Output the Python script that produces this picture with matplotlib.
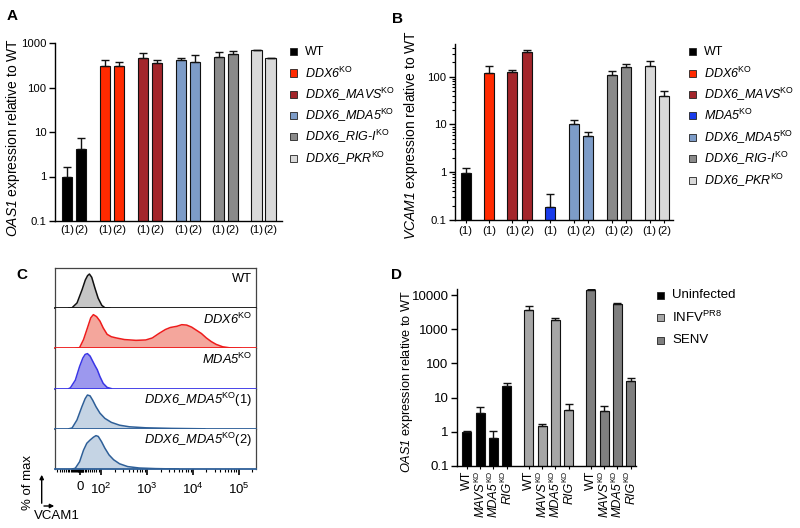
import matplotlib
matplotlib.use('Agg')
import matplotlib.pyplot as plt
import numpy as np
from matplotlib import font_manager
from matplotlib.patches import Rectangle, FancyArrowPatch
from matplotlib.ticker import NullLocator, LogLocator, FixedLocator
from matplotlib.transforms import blended_transform_factory

_names = {f.name for f in font_manager.fontManager.ttflist}
REG = 'Liberation Sans'
NARROW = 'Liberation Sans Narrow' if 'Liberation Sans Narrow' in _names else REG
NSCALE = 1.0 if NARROW != REG else 0.9

plt.rcParams['font.family'] = [REG, 'DejaVu Sans']
plt.rcParams['font.size'] = 9
plt.rcParams['mathtext.fontset'] = 'custom'
plt.rcParams['mathtext.rm'] = REG
plt.rcParams['mathtext.it'] = REG + ':italic'
plt.rcParams['mathtext.bf'] = REG + ':bold'

# ---------------- data ----------------
# Panel A: OAS1 expression
a_counts = [2, 2, 2, 2, 2, 2]
a_ticklabels = ['(1)', '(2)'] * 6
a_mean = [1.0, 4.2, 297, 297, 450, 355, 405, 370, 475, 570, 680, 450]
a_err = [0.62, 3.1, 123, 73, 155, 50, 55, 180, 140, 80, 25, 5]

# Panel B: VCAM1 expression
b_counts = [1, 1, 2, 1, 2, 2, 2]
b_ticklabels = ['(1)', '(1)', '(1)', '(2)', '(1)', '(1)', '(2)', '(1)', '(2)', '(1)', '(2)']
b_mean = [0.95, 116, 122, 325, 0.185, 10.4, 5.8, 109, 160, 168, 39.5]
b_err = [0.26, 53, 12, 27, 0.165, 2.1, 1.0, 21, 22, 43, 9.5]

# Panel D: OAS1 expression after infection
d_conditions = ['Uninfected', r'INFV$^{\rm PR8}$', 'SENV']
d_lines = ['WT', 'MAVS', 'MDA5', 'RIG']
d_lines_ko = [False, True, True, True]
d_uninf = [1.0, 3.6, 0.68, 21.8]
d_uninf_err = [0.07, 1.6, 0.39, 4.2]
d_infv = [3660, 1.47, 1860, 4.3]
d_infv_err = [1040, 0.17, 240, 2.0]
d_senv = [14100, 4.0, 5500, 31.2]
d_senv_err = [1000, 1.65, 250, 5.3]

# Panel C: flow histograms (x in decade display units, y = fraction of row height)
c_wt_x = [1.30, 1.37, 1.48, 1.59, 1.66, 1.71, 1.75, 1.80, 1.87, 1.94, 2.02, 2.09, 2.20]
c_wt_y = [0, 0.01, 0.13, 0.46, 0.70, 0.81, 0.85, 0.77, 0.50, 0.25, 0.07, 0.01, 0]
c_ddx6_x = [1.45, 1.536, 1.622, 1.707, 1.779, 1.836, 1.907, 1.979, 2.05, 2.136, 2.228, 2.336,
            2.514, 2.764, 2.978, 3.121, 3.263, 3.406, 3.513, 3.656, 3.763, 3.870, 3.977, 4.084,
            4.191, 4.298, 4.405, 4.512, 4.655, 4.834, 5.05]
c_ddx6_y = [0, 0.02, 0.22, 0.51, 0.76, 0.84, 0.79, 0.68, 0.51, 0.35, 0.29, 0.26,
            0.22, 0.20, 0.21, 0.26, 0.37, 0.47, 0.52, 0.55, 0.59, 0.58, 0.53, 0.45,
            0.37, 0.26, 0.17, 0.10, 0.04, 0.01, 0]
c_mda5_x = [1.30, 1.336, 1.443, 1.536, 1.607, 1.657, 1.707, 1.764, 1.822, 1.872, 1.921, 1.979,
            2.05, 2.136, 2.228]
c_mda5_y = [0, 0.02, 0.21, 0.55, 0.76, 0.85, 0.87, 0.81, 0.68, 0.57, 0.47, 0.30,
            0.13, 0.03, 0]
c_dm1_x = [1.30, 1.372, 1.479, 1.586, 1.657, 1.707, 1.764, 1.822, 1.893, 1.979, 2.086, 2.228,
           2.407, 2.621, 2.978, 3.549, 4.263]
c_dm1_y = [0, 0.02, 0.22, 0.55, 0.75, 0.84, 0.82, 0.71, 0.55, 0.39, 0.26, 0.16,
           0.09, 0.05, 0.025, 0.01, 0]
c_dm2_x = [1.38, 1.443, 1.536, 1.622, 1.693, 1.764, 1.836, 1.893, 1.943, 2.014, 2.086, 2.178,
           2.278, 2.407, 2.585, 2.835, 3.192, 3.692]
c_dm2_y = [0, 0.02, 0.18, 0.47, 0.64, 0.72, 0.79, 0.83, 0.81, 0.68, 0.52, 0.35,
           0.23, 0.13, 0.06, 0.025, 0.01, 0]
c_labels = [('WT', 'normal'), (r'DDX6$^{\rm KO}$', 'italic'), (r'MDA5$^{\rm KO}$', 'italic'),
            (r'DDX6_MDA5$^{\rm KO}\mathrm{(1)}$', 'italic'), (r'DDX6_MDA5$^{\rm KO}\mathrm{(2)}$', 'italic')]
c_tick_pos = [1.55, 2, 3, 4, 5]
c_tick_labels = ['0', r'$10^2$', r'$10^3$', r'$10^4$', r'$10^5$']

# ---------------- styling ----------------
colA = ['black'] * 2 + ['#ff2a00'] * 2 + ['#a3262b'] * 2 + ['#7d9cc8'] * 2 + ['#8a8a8a'] * 2 + ['#d9d9d9'] * 2
colB = ['black', '#ff2a00', '#a3262b', '#a3262b', '#1a3ceb', '#7d9cc8', '#7d9cc8',
        '#8a8a8a', '#8a8a8a', '#d9d9d9', '#d9d9d9']
legA = [('black', 'WT', 'normal'), ('#ff2a00', r'DDX6$^{\rm KO}$', 'italic'),
        ('#a3262b', r'DDX6_MAVS$^{\rm KO}$', 'italic'),
        ('#7d9cc8', r'DDX6_MDA5$^{\rm KO}$', 'italic'), ('#8a8a8a', r'DDX6_RIG-I$^{\rm KO}$', 'italic'),
        ('#d9d9d9', r'DDX6_PKR$^{\rm KO}$', 'italic')]
legB = [('black', 'WT', 'normal'), ('#ff2a00', r'DDX6$^{\rm KO}$', 'italic'),
        ('#a3262b', r'DDX6_MAVS$^{\rm KO}$', 'italic'),
        ('#1a3ceb', r'MDA5$^{\rm KO}$', 'italic'), ('#7d9cc8', r'DDX6_MDA5$^{\rm KO}$', 'italic'),
        ('#8a8a8a', r'DDX6_RIG-I$^{\rm KO}$', 'italic'), ('#d9d9d9', r'DDX6_PKR$^{\rm KO}$', 'italic')]
colD = ['black', '#a6a6a6', '#7f7f7f']

W, H = 800, 528
fig = plt.figure(figsize=(W / 100, H / 100), dpi=100)


def fx(px):
    return px / W


def fy(py):
    return 1 - py / H


def ax_px(l, t, r, b):
    return fig.add_axes([l / W, 1 - b / H, (r - l) / W, (b - t) / H])


def positions(counts, gap):
    pos = []
    x = 0.0
    for c in counts:
        for i in range(c):
            pos.append(x)
            x += 1
        x = x - 1 + gap
    return np.array(pos)


def style_bar_axes(ax, family, size):
    for s in ['top', 'right']:
        ax.spines[s].set_visible(False)
    for s in ['left', 'bottom']:
        ax.spines[s].set_linewidth(1.0)
    ax.tick_params(axis='y', direction='out', length=4, width=1, pad=2)
    for t in ax.get_yticklabels():
        t.set_family(family)
        t.set_fontsize(size)


def legend_px(entries, xm, y0, dy, xt, fs, family, size=7):
    for k, (c, lab, st) in enumerate(entries):
        yc = y0 + k * dy
        fig.add_artist(Rectangle((fx(xm - size / 2), fy(yc + size / 2)), size / W, size / H,
                                 transform=fig.transFigure, facecolor=c, edgecolor='#222222', lw=0.6))
        fig.text(fx(xt), fy(yc), lab, ha='left', va='center', fontsize=fs, style=st, family=family)


def bars(ax, pos, mean, err, colors, width):
    ax.bar(pos, mean, width=width, color=colors, edgecolor='#111111', linewidth=0.8, zorder=2)
    ax.errorbar(pos, mean, yerr=[np.zeros(len(err)), err], fmt='none', ecolor='#111111',
                elinewidth=1.0, capsize=2.6, capthick=1.0, zorder=3)


def gene_ylabel(ax, gene, xc, yc, fs):
    ax.set_ylabel(gene + r'$\rm{\ expression\ relative\ to\ WT}$', fontsize=fs, style='italic',
                  family=REG)
    ax.yaxis.set_label_coords(xc, yc)


# ---------------- Panel A ----------------
axA = ax_px(55, 43, 282, 221)
posA = positions(a_counts, 1.71)
bars(axA, posA, a_mean, a_err, colA, 0.74)
axA.set_yscale('log')
axA.set_ylim(0.1, 1000)
axA.set_xlim(-0.86, 15.36)
axA.set_yticks([0.1, 1, 10, 100, 1000])
axA.set_yticklabels(['0.1', '1', '10', '100', '1000'])
axA.yaxis.set_minor_locator(NullLocator())
axA.set_xticks(posA)
axA.set_xticklabels(a_ticklabels, fontsize=9 * NSCALE, family=NARROW)
axA.tick_params(axis='x', length=0, pad=3)
style_bar_axes(axA, NARROW, 9 * NSCALE)
gene_ylabel(axA, 'OAS1', -0.145, 0.47, 10)
legend_px(legA, 293, 51.7, 21.3, 305, 10 * NSCALE, NARROW)

# ---------------- Panel B ----------------
axB = ax_px(455, 44, 673, 220)
posB = positions(b_counts, 1.6)
bars(axB, posB, b_mean, b_err, colB, 0.7)
axB.set_yscale('log')
axB.set_ylim(0.1, 480)
axB.set_xlim(-0.73, 14.2)
axB.set_yticks([0.1, 1, 10, 100])
axB.set_yticklabels(['0.1', '1', '10', '100'])
axB.yaxis.set_minor_locator(LogLocator(base=10, subs=np.arange(2, 10)))
axB.yaxis.set_minor_formatter(matplotlib.ticker.NullFormatter())
axB.tick_params(axis='y', which='minor', length=2, width=0.8)
axB.set_xticks(posB)
axB.set_xticklabels(b_ticklabels, fontsize=9 * NSCALE, family=NARROW)
axB.tick_params(axis='x', length=2.5, width=0.8, pad=2)
style_bar_axes(axB, NARROW, 9 * NSCALE)
gene_ylabel(axB, 'VCAM1', -0.16, 0.48, 10)
legend_px(legB, 692.5, 51.7, 21.4, 704, 10 * NSCALE, NARROW)

# ---------------- Panel D ----------------
axD = ax_px(457, 289, 636, 466)
posD = positions([4, 4, 4], 1.67)
d_means = [d_uninf, d_infv, d_senv]
d_errs = [d_uninf_err, d_infv_err, d_senv_err]
for g in range(3):
    bars(axD, posD[g * 4:(g + 1) * 4], d_means[g], d_errs[g], [colD[g]] * 4, 0.68)
axD.set_yscale('log')
axD.set_ylim(0.1, 15000)
axD.set_xlim(-0.74, 12.75)
axD.set_yticks([0.1, 1, 10, 100, 1000, 10000])
axD.set_yticklabels(['0.1', '1', '10', '100', '1000', '10000'])
axD.yaxis.set_minor_locator(NullLocator())
axD.set_xticks(posD)
axD.set_xticklabels([])
axD.tick_params(axis='x', length=2.5, width=0.8)
style_bar_axes(axD, REG, 9.5)
gene_ylabel(axD, 'OAS1', -0.235, 0.475, 9.2)
legend_px([(colD[k], d_conditions[k], 'normal') for k in range(3)], 660, 295, 22.5, 672, 9.5, REG)
# x labels: gene name rotated, with the KO superscript as a separate small text
transD = blended_transform_factory(axD.transData, axD.transAxes)
for k, p in enumerate(posD):
    name = d_lines[k % 4]
    ko = d_lines_ko[k % 4]
    if ko:
        axD.annotate('KO', xy=(p, 0), xycoords=transD, xytext=(-3.4, -5), textcoords='offset pixels',
                     rotation=90, ha='center', va='top', fontsize=5.5, annotation_clip=False)
        axD.annotate(name, xy=(p, 0), xycoords=transD, xytext=(0.6, -16), textcoords='offset pixels',
                     rotation=90, ha='center', va='top', fontsize=9, style='italic',
                     annotation_clip=False)
    else:
        axD.annotate(name, xy=(p, 0), xycoords=transD, xytext=(0, -5), textcoords='offset pixels',
                     rotation=90, ha='center', va='top', fontsize=9, annotation_clip=False)

# ---------------- Panel C ----------------
c_rows = [
    (c_wt_x, c_wt_y, '#111111', '#c6c6c6'),
    (c_ddx6_x, c_ddx6_y, '#ee1c1c', '#f4a69c'),
    (c_mda5_x, c_mda5_y, '#3a36e6', '#9c98ee'),
    (c_dm1_x, c_dm1_y, '#2e5f98', '#c5d4e4'),
    (c_dm2_x, c_dm2_y, '#2e5f98', '#c5d4e4'),
]
row_h = (469 - 268) / 5.0
minor_c = [1.05, 1.1, 1.15, 1.2, 1.24, 1.28, 1.31, 1.34, 1.37, 1.40, 1.42, 1.44, 1.46, 1.48,
           1.50, 1.51, 1.52, 1.53, 1.54, 1.56, 1.57, 1.58, 1.59, 1.60, 1.62, 1.65, 1.68, 1.72,
           1.76, 1.80, 1.85, 1.90, 1.95]
for n in (2, 3, 4):
    for k in range(2, 10):
        minor_c.append(n + np.log10(k))
minor_c += [5 + np.log10(2)]
for k, (xs, ys, lc, fc) in enumerate(c_rows):
    top = 268 + k * row_h
    ax = ax_px(55, top, 256, top + row_h)
    ax.fill_between(xs, ys, 0, color=fc, lw=0, zorder=1)
    ax.plot(xs, ys, color=lc, lw=1.1, zorder=3, solid_joinstyle='round')
    ax.axhline(0, color=lc, lw=1.3, zorder=4, clip_on=False)
    ax.set_xlim(1.0, 5.38)
    ax.set_ylim(0, 1)
    ax.set_yticks([])
    for s in ['left', 'right', 'top']:
        ax.spines[s].set_color('#444444')
        ax.spines[s].set_linewidth(0.9)
    ax.spines['top'].set_visible(k == 0)
    ax.spines['bottom'].set_visible(False)
    lab, st = c_labels[k]
    ax.text(0.98, 1 - 11 / row_h, lab, transform=ax.transAxes, ha='right', va='center',
            fontsize=9.3, style=st)
    if k < 4:
        ax.set_xticks([])
    else:
        ax.set_xticks(c_tick_pos)
        ax.set_xticklabels(c_tick_labels, fontsize=9.5)
        ax.xaxis.set_minor_locator(FixedLocator(minor_c))
        ax.tick_params(axis='x', which='major', length=4, width=1.2, pad=5)
        ax.tick_params(axis='x', which='minor', length=2.5, width=0.8)

fig.add_artist(FancyArrowPatch((fx(41.7), fy(506)), (fx(41.7), fy(472)), transform=fig.transFigure,
                               arrowstyle='-|>', mutation_scale=6, lw=1.0, color='black'))
fig.add_artist(FancyArrowPatch((fx(41.2), fy(506)), (fx(57), fy(506)), transform=fig.transFigure,
                               arrowstyle='-|>', mutation_scale=6, lw=1.0, color='black'))
fig.text(fx(28), fy(482), '% of max', rotation=90, ha='center', va='center', fontsize=9.5)
fig.text(fx(34), fy(516), 'VCAM1', ha='left', va='center', fontsize=9.5)

# ---------------- panel letters ----------------
for lab, x, y in [('A', 7, 20), ('B', 392, 23), ('C', 16, 279), ('D', 391, 279)]:
    fig.text(fx(x), fy(y), lab, fontsize=11, fontweight='bold', ha='left', va='baseline')

fig.savefig('out.png', dpi=100)
